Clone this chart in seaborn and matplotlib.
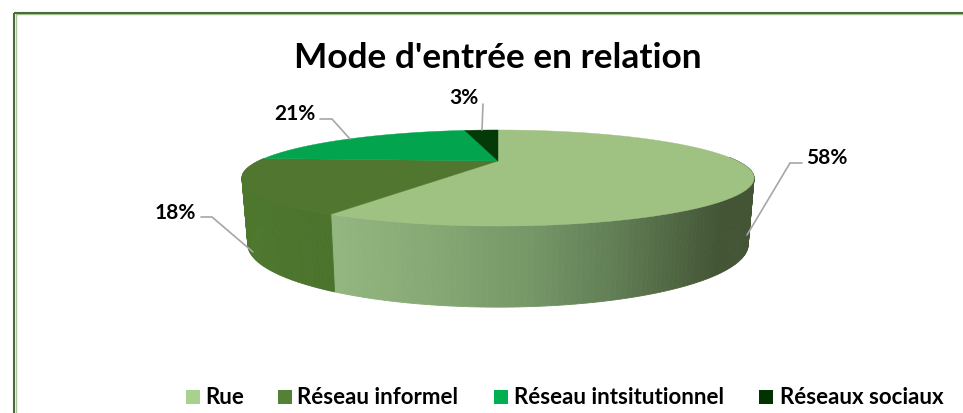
import numpy as np
import seaborn as sns
import matplotlib.pyplot as plt
from matplotlib.patches import Rectangle

# Donnees du graphique
categories = ['Rue', 'Réseau informel', 'Réseau intsitutionnel', 'Réseaux sociaux']
valeurs = [58, 18, 21, 3]
titre = "Mode d'entrée en relation"

couleurs_dessus = ['#9fc283', '#50762f', '#02a44e', '#033a08']
couleurs_legende = ['#a9d18e', '#548235', '#00b050', '#003300']
gris = '#a6a6a6'

sns.set_theme(style='white')
plt.rcParams['font.family'] = ['Lato', 'DejaVu Sans']

# Perspective de la tarte: le centre du disque n'est pas au centre de l'ellipse
K = 0.354


def haut(t):
    w = 1 + K * np.cos(t)
    return 498 + 239.5 * np.sin(t) / w, 162 - 42 * np.cos(t) / w


def bas(t):
    w = 1 + K * np.cos(t)
    return 498 + 234 * np.sin(t) / w, 223 - 55 * np.cos(t) / w


def angles(d, f):
    return np.radians(np.linspace(d, f, max(int(abs(f - d)), 2) + 1))


fig, ax = plt.subplots(figsize=(9.63, 4.14), dpi=100)
fig.subplots_adjust(0, 0, 1, 1)
ax.set_xlim(0, 963)
ax.set_ylim(414, 0)
ax.axis('off')

# Cadre, avec un liseré clair
ax.add_patch(Rectangle((15.5, 15), 990, 500, fill=False, ec='#a9c49a', lw=1))
ax.add_patch(Rectangle((14, 13.5), 990, 500, fill=False, ec='#4b6b3a', lw=1.5))

bornes = np.cumsum([0] + valeurs) * 3.6

# Flancs visibles (de 90 a 273 degres environ)
degrade_rue = sns.blend_palette(['#93b57f', '#86a874', '#769868', '#5f7b53', '#435535'], 256)
degrade_inf = sns.blend_palette(['#4e772e', '#4b722c'], 256)

for i, degrade, x0, x1 in [(0, degrade_rue, 335, 720), (1, degrade_inf, 245, 339)]:
    d, f = bornes[i], bornes[i + 1]
    d = max(d, 85)
    f = min(f, 274)
    tt = angles(d, f)
    for a, b in zip(tt[:-1], tt[1:]):
        xa, ya = haut(a)
        xb, yb = haut(b)
        xc, yc = bas(b)
        xd, yd = bas(a)
        pos = np.clip(((xa + xb) / 2 - x0) / (x1 - x0), 0, 1)
        c = degrade[int(pos * 255)]
        ax.fill([xa, xb, xc, xd], [ya, yb, yc, yd], color=c, lw=0.6)

# Dessus
for i in range(len(valeurs)):
    tt = angles(bornes[i], bornes[i + 1])
    x, y = haut(tt)
    ax.fill(np.r_[498, x], np.r_[162, y], color=couleurs_dessus[i], lw=0.3)

# Etiquettes et traits de rappel
etiquettes = [f'{v}%' for v in valeurs]
traits = [([747, 790, 802], [236, 164, 164]),
          ([253, 212, 201], [253, 218, 218]),
          ([350, 332, 320], [140, 120, 120]),
          ([482, 483, 483], [131, 105, 105])]
places = [(827, 158), (175, 213), (295, 114), (464, 98)]
for txt, (tx, ty), (lx, ly) in zip(etiquettes, traits, places):
    ax.plot(tx, ty, color=gris, lw=1.2, solid_joinstyle='miter')
    ax.text(lx, ly, txt, fontsize=15, fontweight='bold', color='black', ha='center', va='center')

ax.text(498, 58, titre, fontsize=25.4, fontweight='bold', color='black', ha='center', va='center')

# Legende
x_carres = [186, 278, 494, 759]
x_textes = [205, 297, 514, 780]
for nom, c, xc, xt in zip(categories, couleurs_legende, x_carres, x_textes):
    ax.add_patch(Rectangle((xc, 391), 14, 14, color=c, lw=0))
    ax.text(xt, 398, nom, fontsize=16, fontweight='bold', color='black', ha='left', va='center')

fig.savefig('out.png', dpi=100)
